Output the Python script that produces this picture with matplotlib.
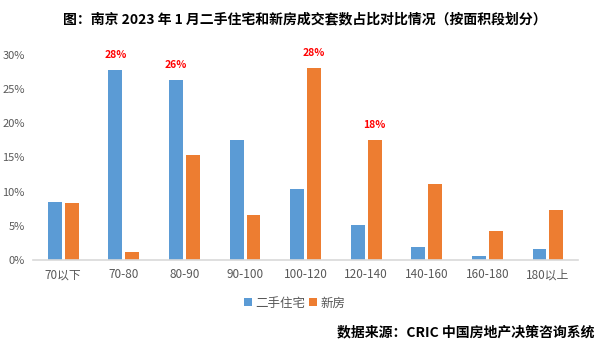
import numpy as np
import matplotlib.pyplot as plt

plt.rcParams['font.family'] = ['Noto Sans CJK SC', 'DejaVu Sans']

categories = ['70以下', '70-80', '80-90', '90-100', '100-120', '120-140', '140-160', '160-180', '180以上']
second_hand = [8.5, 27.8, 26.3, 17.5, 10.4, 5.1, 1.9, 0.6, 1.6]
new_house = [8.3, 1.1, 15.4, 6.6, 28.1, 17.5, 11.1, 4.2, 7.3]
labels_2nd = {1: '28%', 2: '26%'}
labels_new = {4: '28%', 5: '18%'}

blue = '#5B9BD5'
orange = '#ED7D31'

fig = plt.figure(figsize=(6.1, 3.48), dpi=100)
ax = fig.add_axes([0.054, 0.253, 0.894, 0.590])

x = np.arange(len(categories))
w = 0.23
off = 0.14
ax.bar(x - off, second_hand, w, color=blue, label='二手住宅')
ax.bar(x + off, new_house, w, color=orange, label='新房')

for i, t in labels_2nd.items():
    ax.annotate(t, (x[i] - off, second_hand[i]), xytext=(0, 15), textcoords='offset pixels',
                ha='center', va='center', color='red', fontsize=7.5, fontweight='bold')
for i, t in labels_new.items():
    ax.annotate(t, (x[i] + off, new_house[i]), xytext=(0, 15), textcoords='offset pixels',
                ha='center', va='center', color='red', fontsize=7.5, fontweight='bold')

ax.set_xlim(-0.5, len(categories) - 0.5)
ax.set_ylim(0, 30)
ax.set_yticks(range(0, 31, 5))
ax.set_yticklabels([f'{v}%' for v in range(0, 31, 5)])
ax.set_xticks(x)
ax.set_xticklabels(categories)
ax.tick_params(axis='both', length=0, labelsize=8, colors='#595959', pad=6)
ax.tick_params(axis='x', labelsize=8.5)
for s in ['top', 'right', 'left']:
    ax.spines[s].set_visible(False)
ax.spines['bottom'].set_color('#D9D9D9')
ax.spines['bottom'].set_linewidth(1.2)

fig.legend(loc='center', bbox_to_anchor=(0.483, 0.129), ncol=2, frameon=False,
           fontsize=9, handlelength=0.6, handleheight=0.6, handletextpad=0.3,
           columnspacing=0.3, labelcolor='#595959')

fig.text(0.5, 0.945, '图：南京 2023 年 1 月二手住宅和新房成交套数占比对比情况（按面积段划分）',
         ha='center', va='center', fontsize=10, fontweight='bold')
fig.text(0.975, 0.046, '数据来源：CRIC 中国房地产决策咨询系统',
         ha='right', va='center', fontsize=10, fontweight='bold')

fig.savefig('out.png')
